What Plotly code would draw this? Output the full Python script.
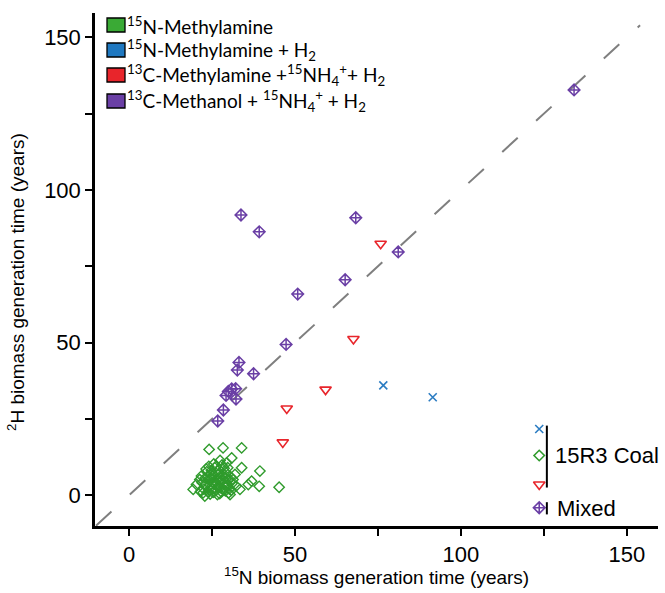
import plotly.graph_objects as go

# ---------------- data ----------------
green_x = [24.1, 28.3, 33.9, 30.9, 27.4, 33.9, 39.4, 31.9, 36.9, 39.2, 45.2, 19.3, 21.3, 22.8, 30.4,
           33.4, 35.9, 25.8, 29.4, 20.3, 22.3,
           22.5, 23.1, 23.8, 24.2, 24.6, 25.0, 25.3, 25.7, 26.0, 26.2, 26.5, 26.8, 27.1, 27.3, 27.6,
           27.9, 28.1, 28.4, 28.7, 29.0, 29.3, 29.6, 29.9, 30.2, 30.6, 31.0, 21.8, 22.0, 23.4, 24.0,
           24.8, 25.5, 26.3, 22.9, 23.6, 24.4, 25.9, 26.6, 27.0, 27.8, 28.6, 29.2, 30.0, 30.8, 31.3,
           32.2, 21.5, 24.9, 26.9, 28.0, 23.2, 25.2, 27.4, 28.9, 29.7, 26.1, 24.7, 27.7, 23.9, 25.6]
green_y = [15.0, 15.5, 15.5, 12.2, 11.4, 9.0, 7.9, 6.8, 4.6, 2.9, 2.6, 1.9, 5.1, -0.3, 0.2,
           1.9, 3.5, 9.0, 10.6, 3.5, 0.8,
           2.0, 3.4, 1.2, 4.8, 2.6, 6.1, 0.9, 3.9, 7.4, 1.8, 5.2, 2.9, 8.3, 0.5, 4.4,
           6.6, 2.2, 3.6, 5.8, 1.4, 7.2, 3.1, 4.9, 2.0, 6.0, 3.8, 6.3, 4.1, 7.7, 9.4,
           8.0, 10.2, 9.6, 5.6, 2.5, 0.4, 4.5, 0.2, 3.1, 1.1, 8.8, 5.5, 0.8, 1.6, 5.1,
           3.0, 1.2, 5.5, 6.8, 9.9, 8.6, 2.0, 2.4, 3.3, 9.0, 3.2, 7.0, 5.0, 6.2, 1.1]

blue_x = [76.6, 91.5]
blue_y = [36.0, 32.1]

red_x = [75.8, 67.6, 59.2, 47.5, 46.3]
red_y = [82.4, 51.2, 34.6, 28.4, 17.3]

purple_x = [33.7, 39.2, 68.3, 81.1, 65.1, 50.8, 47.3, 33.1, 32.6, 37.5, 29.9, 30.9, 32.1, 29.2,
            32.2, 28.4, 26.7, 134.1]
purple_y = [91.8, 86.3, 90.9, 79.7, 70.6, 65.9, 49.4, 43.5, 41.0, 39.8, 34.0, 34.8, 34.9, 32.7,
            31.5, 27.9, 24.3, 132.8]

one_to_one = [-10, 154]

tick_vals = [0, 25, 50, 75, 100, 125, 150]
tick_text = ["0", "", "50", "", "100", "", "150"]

legend_labels = [
    "<sup>15</sup>N-Methylamine",
    "<sup>15</sup>N-Methylamine + H<sub>2</sub>",
    "<sup>13</sup>C-Methylamine +<sup>15</sup>NH<sub>4</sub><sup>+</sup>+ H<sub>2</sub>",
    "<sup>13</sup>C-Methanol + <sup>15</sup>NH<sub>4</sub><sup>+</sup> + H<sub>2</sub>",
]
key_labels = ["15R3 Coal", "Mixed"]

# ---------------- style ----------------
GREEN = "#2f9b2c"
GREEN_SQ = "#3aaa35"
BLUE = "#2b7cc2"
BLUE_SQ = "#1f78c0"
RED = "#e8252b"
PURPLE = "#6a3fa5"
AX_FONT = "Liberation Sans, Arial, sans-serif"
LEG_FONT = "Lato, Open Sans, sans-serif"

W, H = 665, 593
L, R, T, B = 95, 7, 13, 67
PW, PH = W - L - R, H - T - B


def px_x(p):
    return (p - L) / PW


def px_y(p):
    return (H - B - p) / PH


fig = go.Figure()

fig.add_trace(go.Scatter(x=one_to_one, y=one_to_one, mode="lines",
                         line=dict(color="#7f7f7f", width=2, dash="21px,25px"),
                         hoverinfo="skip"))

fig.add_trace(go.Scatter(x=green_x, y=green_y, mode="markers",
                         marker=dict(symbol="diamond-open", size=8, color=GREEN,
                                     line=dict(width=1.4, color=GREEN))))
fig.add_trace(go.Scatter(x=purple_x, y=purple_y, mode="markers",
                         marker=dict(symbol="diamond-cross-open", size=9, color=PURPLE,
                                     line=dict(width=1.5, color=PURPLE))))
fig.add_trace(go.Scatter(x=red_x, y=red_y, mode="markers",
                         marker=dict(symbol="triangle-down-open", size=10, color=RED,
                                     line=dict(width=1.6, color=RED))))
fig.add_trace(go.Scatter(x=blue_x, y=blue_y, mode="markers",
                         marker=dict(symbol="x-thin-open", size=8, color=BLUE,
                                     line=dict(width=1.6, color=BLUE))))

# bottom-right key (marker symbols)
key_x = 123.6
key_specs = [
    (21.7, "x-thin-open", 8, BLUE),
    (13.0, "diamond-open", 8, GREEN),
    (3.5, "triangle-down-open", 10, RED),
    (-4.1, "diamond-cross-open", 9, PURPLE),
]
for ky, sym, sz, col in key_specs:
    fig.add_trace(go.Scatter(x=[key_x], y=[ky], mode="markers",
                             marker=dict(symbol=sym, size=sz, color=col,
                                         line=dict(width=1.6, color=col))))

shapes = [
    dict(type="line", xref="x", yref="y", x0=125.9, x1=125.9, y0=22.8, y1=2.5,
         line=dict(color="black", width=2)),
    dict(type="line", xref="x", yref="y", x0=125.9, x1=125.9, y0=-2.3, y1=-6.3,
         line=dict(color="black", width=2)),
]
annotations = [
    dict(x=px_x(553), y=13.0, xref="paper", yref="y", text=key_labels[0], showarrow=False,
         xanchor="left", yanchor="middle", font=dict(family=AX_FONT, size=22, color="black")),
    dict(x=px_x(555), y=-4.3, xref="paper", yref="y", text=key_labels[1], showarrow=False,
         xanchor="left", yanchor="middle", font=dict(family=AX_FONT, size=22, color="black")),
]

# top-left legend
sq_cols = [GREEN_SQ, BLUE_SQ, RED, PURPLE]
row_px = [25, 50, 75, 101]
for lab, col, ry in zip(legend_labels, sq_cols, row_px):
    shapes.append(dict(type="rect", xref="paper", yref="paper",
                       x0=px_x(107), x1=px_x(125), y0=px_y(ry + 7), y1=px_y(ry - 7),
                       fillcolor=col, line=dict(color="black", width=1.3)))
    annotations.append(dict(x=px_x(125), y=px_y(ry), xref="paper", yref="paper", text=lab,
                            showarrow=False, xanchor="left", yanchor="middle",
                            font=dict(family=LEG_FONT, size=19, color="black")))

# axis titles
annotations.append(dict(x=0.5, y=px_y(576), xref="paper", yref="paper",
                        text="<sup>15</sup>N biomass generation time (years)", showarrow=False,
                        xanchor="center", yanchor="middle",
                        font=dict(family=AX_FONT, size=19, color="black")))
annotations.append(dict(x=px_x(16), y=px_y(282), xref="paper", yref="paper",
                        text="<sup>2</sup>H biomass generation time (years)", showarrow=False,
                        textangle=-90, xanchor="center", yanchor="middle",
                        font=dict(family=AX_FONT, size=19, color="black")))

axis_common = dict(showline=True, linecolor="black", linewidth=2.5, ticks="outside",
                   ticklen=7, tickwidth=2, tickcolor="black", showgrid=False, zeroline=False,
                   tickvals=tick_vals, ticktext=tick_text,
                   tickfont=dict(family=AX_FONT, size=22, color="black"))

fig.update_layout(
    width=W, height=H,
    margin=dict(l=L, r=R, t=T, b=B),
    plot_bgcolor="white", paper_bgcolor="white",
    showlegend=False,
    xaxis=dict(range=[-10.3, 159.4], **axis_common),
    yaxis=dict(range=[-10.1, 158], **axis_common),
    shapes=shapes,
    annotations=annotations,
)

fig.write_html("out.html",
               config={"displayModeBar": False},
               post_script="document.body.style.margin='0';"
                           "document.body.style.overflow='hidden';")
